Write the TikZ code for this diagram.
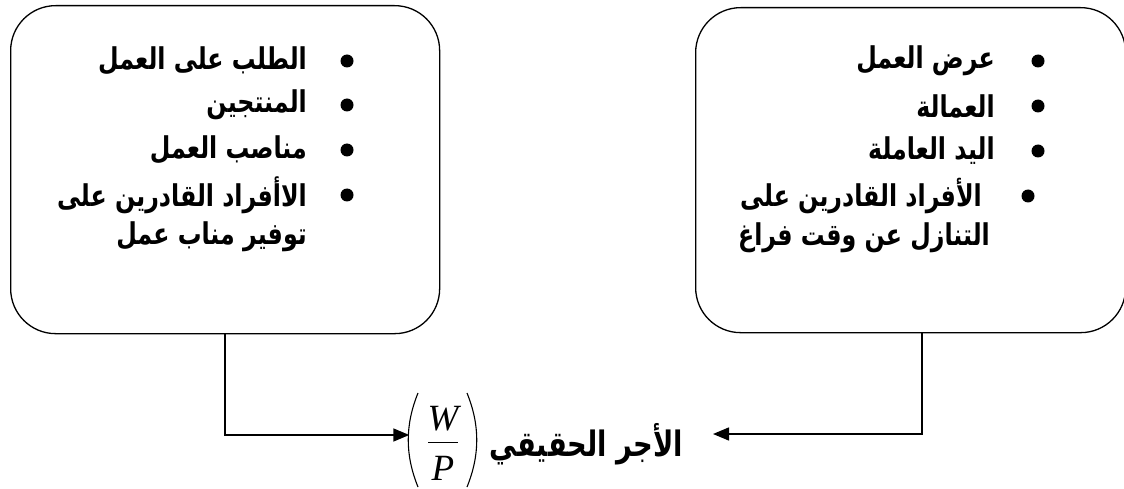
\documentclass[tikz,border=0pt]{standalone}
\usepackage{fontspec}
\setmainfont{Liberation Serif}
\newfontfamily\arfont[Script=Arabic]{DejaVu Sans}
\TeXXeTstate=1
\usetikzlibrary{arrows.meta}
\newcommand\AR[1]{\scalebox{0.79}[1]{\arfont\bfseries\fontsize{30}{34}\selectfont\beginR #1\endR}}
\newcommand\ARbig[1]{\scalebox{0.78}[1]{\arfont\bfseries\fontsize{35}{40}\selectfont\beginR #1\endR}}
\begin{document}
\begin{tikzpicture}[x=1pt,y=-1pt,
  box/.style={draw, line width=1.3pt, rounded corners=45pt, anchor=north west, inner sep=0pt},
  bul/.style={circle, fill=black, inner sep=0pt, minimum size=13pt},
  txt/.style={anchor=east, inner sep=0pt},
  letter/.style={anchor=base, inner sep=0pt, font=\fontsize{37}{40}\selectfont\itshape},
  paren/.style={line width=1.1pt},
  conn/.style={line width=1.5pt, -{Triangle[length=16pt,width=13pt]}}]
\useasboundingbox (0,0) rectangle (1124,489);
\clip (0,0) rectangle (1124,489);
\node[box, minimum width=429pt, minimum height=328pt] (L) at (10,5) {};
\node[box, minimum width=430pt, minimum height=325pt] (R) at (695,7) {};
% left list
\node[bul] (lb1) at (347,61) {};
\node[bul] (lb2) at (347,105) {};
\node[bul] (lb3) at (347,150) {};
\node[bul] (lb4) at (347,195) {};
\node[txt] (lt1) at (307,61) {\AR{الطلب على العمل}};
\node[txt] (lt2) at (307,105) {\AR{المنتجين}};
\node[txt] (lt3) at (307,150) {\AR{مناصب العمل}};
\node[txt] (lt4) at (307,195) {\AR{الاأفراد القادرين على}};
\node[txt] (lt5) at (307,237) {\AR{توفير مناب عمل}};
% right list
\node[bul] (rb1) at (1038,61) {};
\node[bul] (rb2) at (1038,106) {};
\node[bul] (rb3) at (1038,151) {};
\node[bul] (rb4) at (1028,196) {};
\node[txt] (rt1) at (995,61) {\AR{عرض العمل}};
\node[txt] (rt2) at (995,106) {\AR{العمالة}};
\node[txt] (rt3) at (995,151) {\AR{اليد العاملة}};
\node[txt] (rt4) at (982,196) {\AR{الأفراد القادرين على}};
\node[txt] (rt5) at (990,238) {\AR{التنازل عن وقت فراغ}};
% fraction (W/P)
\node[inner sep=0pt, minimum width=66pt, minimum height=94pt] (fr) at (442.5,440) {};
\node[letter] (W) at (443,430) {W};
\node[letter] (P) at (443,480) {P};
\draw[line width=1pt] (428,442) -- (458,442);
\draw[paren] (418,393) .. controls (405,425) and (405,455) .. (418,487);
\draw[paren] (467,393) .. controls (480,425) and (480,455) .. (467,487);
\node[txt] (lab) at (683,444) {\ARbig{الأجر الحقيقي}};
\coordinate (lv) at (225,435);
\coordinate (rv) at (922,434);
\draw[conn] (L.south -| lv) -- (lv) -- (fr.west |- lv);
\draw[conn] (R.south -| rv) -- (rv) -- ([xshift=30pt]lab.east |- rv);
\end{tikzpicture}
\end{document}
